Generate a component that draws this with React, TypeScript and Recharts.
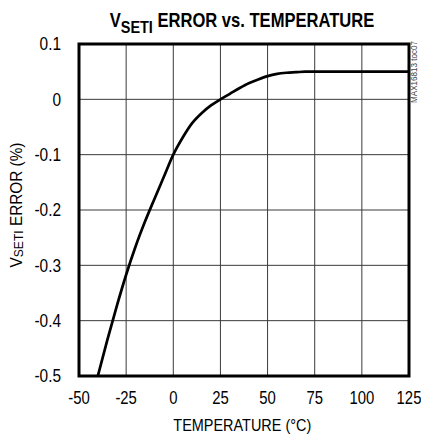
import React from 'react';
import { LineChart, Line, XAxis, YAxis, CartesianGrid, ReferenceArea } from 'recharts';

const temps = [-40, -35, -30, -25, -20, -15, -10, -5, 0, 5, 10, 15, 20, 25, 30, 35, 40, 45, 50, 55, 60, 65, 70, 80, 90, 100, 110, 125];
const errors = [-0.5, -0.435, -0.374, -0.317, -0.266, -0.221, -0.18, -0.14, -0.1, -0.069, -0.043, -0.025, -0.011, 0, 0.01, 0.02, 0.029, 0.036, 0.042, 0.046, 0.048, 0.049, 0.05, 0.05, 0.05, 0.05, 0.05, 0.05];
const xTicks = [-50, -25, 0, 25, 50, 75, 100, 125];
const yTicks = [-0.5, -0.4, -0.3, -0.2, -0.1, 0, 0.1];

const data = temps.map((t, i) => ({ t, err: errors[i] }));

const FONT = "'Liberation Sans', Arial, sans-serif";

const XTick = ({ x, y, payload }: any) => (
  <g transform={`translate(${x},${y}) scale(0.85,1)`}>
    <text x={0} y={0} dy="0.71em" textAnchor="middle" fontSize={17.5} fontFamily={FONT} fill="#000">
      {payload.value}
    </text>
  </g>
);

const YTick = ({ x, y, payload }: any) => (
  <g transform={`translate(${x},${y}) scale(0.88,1)`}>
    <text x={0} y={0} dy="0.355em" textAnchor="end" fontSize={17.5} fontFamily={FONT} fill="#000">
      {payload.value}
    </text>
  </g>
);

export default function App() {
  return (
    <div style={{ position: 'absolute', left: 0, top: 0, width: 421, height: 438, background: '#fff' }}>
      <LineChart width={421} height={438} data={data} margin={{ top: 44, right: 12, bottom: 0, left: 0 }}>
        <CartesianGrid stroke="#3a3a3a" strokeWidth={1} />
        <XAxis
          dataKey="t"
          type="number"
          domain={[-50, 125]}
          ticks={xTicks}
          height={62}
          tickSize={0}
          tickMargin={16}
          tickLine={false}
          axisLine={false}
          tick={<XTick />}
          interval={0}
        />
        <YAxis
          type="number"
          domain={[-0.5, 0.1]}
          ticks={yTicks}
          width={79}
          tickSize={0}
          tickMargin={18}
          tickLine={false}
          axisLine={false}
          tick={<YTick />}
          interval={0}
        />
        <Line
          type="monotone"
          dataKey="err"
          stroke="#000"
          strokeWidth={2.7}
          dot={false}
          isAnimationActive={false}
        />
        <ReferenceArea x1={-50} x2={125} y1={-0.5} y2={0.1} fill="none" fillOpacity={0} stroke="#000" strokeWidth={3} />
      </LineChart>
      <svg width={421} height={438} style={{ position: 'absolute', left: 0, top: 0, pointerEvents: 'none' }}>
        <g transform="translate(242,27) scale(0.85,1)" fontFamily={FONT} fontWeight="bold" fill="#000">
          <text x={0} y={0} textAnchor="middle" fontSize={19.5}>
            <tspan>V</tspan>
            <tspan dy={6} fontSize={17}>SETI</tspan>
            <tspan dy={-6}> ERROR vs. TEMPERATURE</tspan>
          </text>
        </g>
        <g transform="translate(22,205) rotate(-90) scale(0.93,1)" fontFamily={FONT} fill="#000">
          <text x={0} y={0} textAnchor="middle" fontSize={16.5}>
            <tspan>V</tspan>
            <tspan dy={1} fontSize={13}>SETI</tspan>
            <tspan dy={-1}> ERROR (%)</tspan>
          </text>
        </g>
        <g transform="translate(431,431) scale(0.85,1)" fontFamily={FONT} fill="#000">
          <text x={-222} y={0} textAnchor="middle" fontSize={17}>TEMPERATURE (°C)</text>
        </g>
        <g transform="translate(417,72) rotate(-90) scale(0.85,1)" fontFamily={FONT} fill="#444">
          <text x={0} y={0} textAnchor="middle" fontSize={9.5}>MAX16813 toc07</text>
        </g>
      </svg>
    </div>
  );
}
